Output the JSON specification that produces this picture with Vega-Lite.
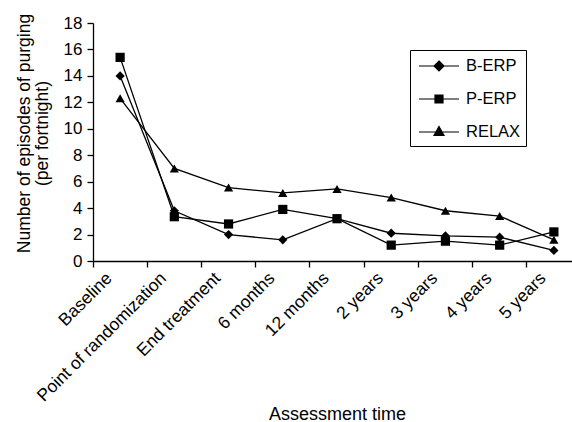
{
  "$schema": "https://vega.github.io/schema/vega-lite/v6.json",
  "width": 479,
  "height": 238,
  "autosize": {"type": "none"},
  "padding": {"left": 93, "top": 23, "right": 0, "bottom": 161},
  "background": "white",
  "config": {
    "view": {"stroke": null},
    "font": "Liberation Sans",
    "axis": {
      "domainColor": "black", "tickColor": "black", "labelColor": "black", "titleColor": "black",
      "labelFontSize": 17.5, "titleFontSize": 18, "titleFontWeight": "normal", "grid": false,
      "domainWidth": 1.3, "tickWidth": 1.3, "tickSize": 6, "labelFont": "Liberation Sans", "titleFont": "Liberation Sans"
    }
  },
  "data": {
    "values": [
      {"time": "Baseline", "group": "B-ERP", "value": 14.0},
      {"time": "Point of randomization", "group": "B-ERP", "value": 3.8},
      {"time": "End treatment", "group": "B-ERP", "value": 2.0},
      {"time": "6 months", "group": "B-ERP", "value": 1.6},
      {"time": "12 months", "group": "B-ERP", "value": 3.2},
      {"time": "2 years", "group": "B-ERP", "value": 2.1},
      {"time": "3 years", "group": "B-ERP", "value": 1.9},
      {"time": "4 years", "group": "B-ERP", "value": 1.8},
      {"time": "5 years", "group": "B-ERP", "value": 0.8},
      {"time": "Baseline", "group": "P-ERP", "value": 15.4},
      {"time": "Point of randomization", "group": "P-ERP", "value": 3.35},
      {"time": "End treatment", "group": "P-ERP", "value": 2.8},
      {"time": "6 months", "group": "P-ERP", "value": 3.9},
      {"time": "12 months", "group": "P-ERP", "value": 3.2},
      {"time": "2 years", "group": "P-ERP", "value": 1.2},
      {"time": "3 years", "group": "P-ERP", "value": 1.5},
      {"time": "4 years", "group": "P-ERP", "value": 1.2},
      {"time": "5 years", "group": "P-ERP", "value": 2.2},
      {"time": "Baseline", "group": "RELAX", "value": 12.3},
      {"time": "Point of randomization", "group": "RELAX", "value": 7.0},
      {"time": "End treatment", "group": "RELAX", "value": 5.55},
      {"time": "6 months", "group": "RELAX", "value": 5.15},
      {"time": "12 months", "group": "RELAX", "value": 5.45},
      {"time": "2 years", "group": "RELAX", "value": 4.8},
      {"time": "3 years", "group": "RELAX", "value": 3.8},
      {"time": "4 years", "group": "RELAX", "value": 3.4},
      {"time": "5 years", "group": "RELAX", "value": 1.6}
    ]
  },
  "encoding": {
    "x": {
      "field": "time", "type": "nominal",
      "sort": ["Baseline", "Point of randomization", "End treatment", "6 months", "12 months", "2 years", "3 years", "4 years", "5 years"],
      "scale": {"type": "band", "range": [0, 488], "paddingInner": 0, "paddingOuter": 0},
      "axis": {
        "bandPosition": 0, "labelAngle": -45, "labelAlign": "right", "labelBaseline": "top",
        "labelOffset": -17, "labelPadding": 2,
        "title": "Assessment time", "titleX": 244, "titleY": 158, "titleBaseline": "alphabetic", "titleAnchor": null
      }
    },
    "y": {
      "field": "value", "type": "quantitative",
      "scale": {"domain": [0, 18], "nice": false},
      "axis": {
        "values": [0, 2, 4, 6, 8, 10, 12, 14, 16, 18], "labelPadding": 5, "labelFontSize": 17,
        "title": ["Number of episodes of purging", "(per fortnight)"], "titleLineHeight": 18, "titleFontSize": 17.5,
        "titleX": -64, "titleY": 110, "titleBaseline": "alphabetic", "titleAlign": "center", "titleAngle": -90
      }
    }
  },
  "layer": [
    {
      "mark": {"type": "line", "color": "black", "strokeWidth": 1.3},
      "encoding": {"detail": {"field": "group"}}
    },
    {
      "mark": {"type": "point", "filled": true, "color": "black", "opacity": 1, "size": 85},
      "encoding": {
        "shape": {
          "field": "group", "type": "nominal",
          "scale": {"domain": ["B-ERP", "P-ERP", "RELAX"], "range": ["diamond", "square", "triangle-up"]},
          "legend": null
        }
      }
    },
    {
      "mark": {"type": "point", "filled": true, "fill": "black", "stroke": "black", "opacity": 0, "size": 400, "strokeWidth": 1.2},
      "encoding": {
        "shape": {
          "field": "group", "type": "nominal",
          "scale": {"domain": ["B-ERP", "P-ERP", "RELAX"], "range": [
            "M-2,0L2,0M0,-0.5L0.5,0L0,0.5L-0.5,0Z",
            "M-2,0L2,0M-0.4,-0.4L0.4,-0.4L0.4,0.4L-0.4,0.4Z",
            "M-2,0L2,0M0,-0.55L0.5,0.35L-0.5,0.35Z"
          ]},
          "legend": {
            "title": null, "orient": "none", "legendX": 317, "legendY": 27,
            "strokeColor": "black", "fillColor": "white", "padding": 5,
            "labelFontSize": 16.5, "labelFont": "Liberation Sans", "labelColor": "black", "labelOffset": 16,
            "rowPadding": 13, "symbolSize": 400, "symbolStrokeWidth": 1.2, "symbolOffset": 13,
            "symbolOpacity": 1,
            "encode": {
              "symbols": {
                "stroke": {"value": "black"},
                "fill": {"value": "black"},
                "strokeWidth": {"value": 1.2},
                "strokeOpacity": {"value": 1},
                "opacity": {"value": 1}
              }
            }
          }
        }
      }
    }
  ],
  "resolve": {"scale": {"shape": "independent"}}
}
